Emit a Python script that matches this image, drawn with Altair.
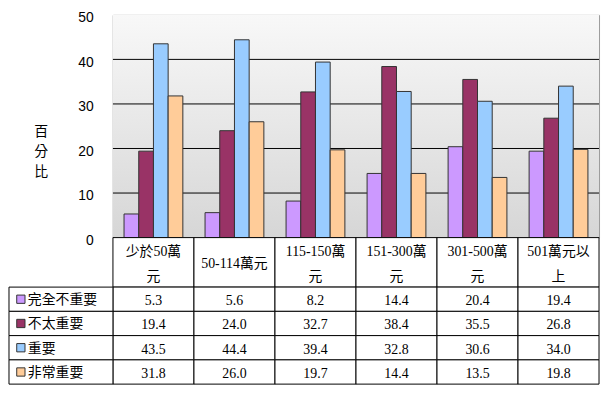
import altair as alt
import pandas as pd

categories = ["少於50萬元", "50-114萬元", "115-150萬元", "151-300萬元", "301-500萬元", "501萬元以上"]
header_line1 = ["少於50萬", "", "115-150萬", "151-300萬", "301-500萬", "501萬元以"]
header_single = ["", "50-114萬元", "", "", "", ""]
header_line2 = ["元", "", "元", "元", "元", "上"]
series = ["完全不重要", "不太重要", "重要", "非常重要"]
v_not_at_all = [5.3, 5.6, 8.2, 14.4, 20.4, 19.4]
v_not_very = [19.4, 24.0, 32.7, 38.4, 35.5, 26.8]
v_important = [43.5, 44.4, 39.4, 32.8, 30.6, 34.0]
v_very = [31.8, 26.0, 19.7, 14.4, 13.5, 19.8]
colors = ["#CC99FF", "#993366", "#99CCFF", "#FFCC99"]
y_ticks = [0, 10, 20, 30, 40, 50]
grid_vals = [10, 20, 30, 40]

all_vals = [v_not_at_all, v_not_very, v_important, v_very]
rows = []
for s, vals in zip(series, all_vals):
    for c, v in zip(categories, vals):
        rows.append({"category": c, "series": s, "value": v})
df = pd.DataFrame(rows)

hdr_rows = []
for c, a, m, b in zip(categories, header_line1, header_single, header_line2):
    for pos, t in (("l1", a), ("mid", m), ("l2", b)):
        if t:
            hdr_rows.append({"category": c, "pos": pos, "label": t})
hdr = pd.DataFrame(hdr_rows)
hdr_cells_df = pd.DataFrame({"category": categories})
leg = pd.DataFrame({"series": series})
grid_df = pd.DataFrame({"value": grid_vals})
bg_df = pd.DataFrame({"a": [0]})

CJK = "'Noto Sans CJK TC'"
SERIF = "'Liberation Serif', 'Noto Sans CJK TC'"

W = 491
x_cat = alt.X("category:N", sort=categories,
              scale=alt.Scale(domain=categories, paddingInner=0, paddingOuter=0), axis=None)
color_enc = alt.Color("series:N", scale=alt.Scale(domain=series, range=colors), legend=None)

y_axis = alt.Axis(values=y_ticks, grid=False, ticks=False, domainColor="black", domainWidth=1,
                  labelPadding=20, labelOffset=3, labelFont="Liberation Sans", labelFontSize=14,
                  labelColor="black",
                  title=["百", "分", "比"], titleAngle=0, titleX=-73, titleY=118,
                  titleFont=CJK, titleFontSize=14, titleFontWeight="normal", titleColor="black",
                  titleLineHeight=20, titleAlign="center", titleBaseline="middle")
y_enc = alt.Y("value:Q", scale=alt.Scale(domain=[0, 50], nice=False), axis=y_axis)

bg = alt.Chart(bg_df).mark_rect(
    fill=alt.Gradient(gradient="linear",
                      stops=[alt.GradientStop(color="#f8f8f8", offset=0),
                             alt.GradientStop(color="#d6d6d6", offset=1)],
                      x1=0, x2=0, y1=0, y2=1)
).encode(x=alt.value(0), x2=alt.value("width"), y=alt.value(0), y2=alt.value("height"))

grid = alt.Chart(grid_df).mark_rule(color="black", strokeWidth=1).encode(
    y=y_enc, x=alt.value(0), x2=alt.value("width"))

bars = alt.Chart(df).mark_bar(stroke="#333333", strokeWidth=1).encode(
    x=x_cat,
    xOffset=alt.XOffset("series:N", sort=series,
                        scale=alt.Scale(domain=series, paddingInner=0, paddingOuter=0.755)),
    y=y_enc,
    color=color_enc,
)

top = alt.layer(bg, grid, bars).properties(
    width=W, height=225, view=alt.ViewBackground(stroke="#999999", strokeWidth=1))

# header row
hdr_cells = alt.Chart(hdr_cells_df).mark_rect(fill="white", stroke="black", strokeWidth=1).encode(
    x=x_cat, y=alt.value(0), y2=alt.value("height"))
hdr_text = alt.Chart(hdr).mark_text(font=SERIF, fontSize=14, color="black", baseline="middle",
                                    dy=2).encode(
    x=x_cat,
    y=alt.Y("pos:N", sort=["l1", "mid", "l2"],
            scale=alt.Scale(type="point", domain=["l1", "mid", "l2"], padding=1.4), axis=None),
    text="label:N")
header = alt.layer(hdr_cells, hdr_text).properties(
    width=W, height=50, view=alt.ViewBackground(stroke=None))

# data rows
row_y = alt.Y("series:N", sort=series,
              scale=alt.Scale(domain=series, paddingInner=0, paddingOuter=0), axis=None)
cells = alt.Chart(df).mark_rect(fill="white", stroke="black", strokeWidth=1).encode(x=x_cat, y=row_y)
vals = alt.Chart(df).mark_text(font=SERIF, fontSize=14, color="black", baseline="middle",
                               dy=2).encode(
    x=x_cat, y=row_y, text=alt.Text("value:Q", format=".1f"))
leg_cells = alt.Chart(leg).mark_rect(fill="white", stroke="black", strokeWidth=1).encode(
    x=alt.value(-105), x2=alt.value(0), y=row_y)
leg_sq = alt.Chart(leg).mark_point(shape="square", filled=True, size=70, opacity=1,
                                   stroke="#333333", strokeWidth=1).encode(
    x=alt.value(-93), y=row_y,
    fill=alt.Fill("series:N", scale=alt.Scale(domain=series, range=colors), legend=None))
leg_txt = alt.Chart(leg).mark_text(font=CJK, fontSize=14, color="black", align="left",
                                   baseline="middle", dy=1).encode(
    x=alt.value(-86), y=row_y, text="series:N")
table = alt.layer(cells, vals, leg_cells, leg_sq, leg_txt).properties(
    width=W, height=98, view=alt.ViewBackground(stroke=None))

chart = alt.vconcat(top, header, table, spacing=0, bounds="flush").properties(
    padding={"left": 0, "top": 0, "right": 2, "bottom": 0}, background="white"
).resolve_scale(y="independent", color="independent")

chart.save("out.html", embed_options={"renderer": "svg", "actions": False})
